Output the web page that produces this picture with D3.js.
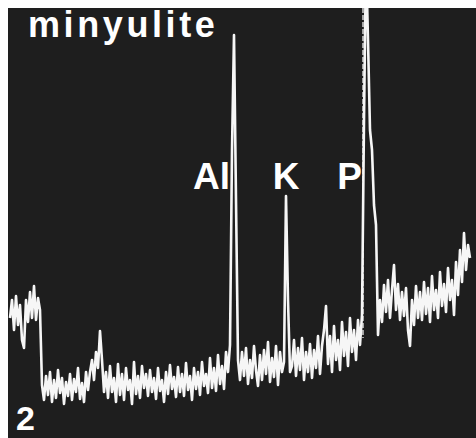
<!DOCTYPE html>
<html>
<head>
<meta charset="utf-8">
<script src="https://cdn.jsdelivr.net/npm/d3@7"></script>
<style>
  html, body { margin: 0; padding: 0; background: #fff; }
  svg { display: block; }
  text { font-family: "Liberation Sans", Arial, sans-serif; font-weight: bold; fill: #fff; }
</style>
</head>
<body>
<div id="chart"></div>
<script>
// spectrum counts, one value per channel (channel 0..230)
var counts = [
  120,138,108,142,113,133,98,90,138,116,146,120,152,118,140,128,
  53,38,62,43,66,36,58,40,68,45,60,34,56,42,64,38,59,46,70,39,55,36,66,48,
  66,78,58,86,70,107,78,46,
  66,40,72,46,60,36,74,43,64,38,
  70,48,58,34,76,44,62,40,72,50,
  64,42,68,46,60,39,70,47,58,36,
  66,44,73,49,61,41,71,46,64,42,
  75,48,62,38,70,49,66,43,76,52,
  64,45,80,50,70,47,83,54,72,49,
  86,66,
  93,288,403,238,78,
  58,86,62,90,54,78,60,92,68,52,83,58,88,64,96,56,80,61,92,53,86,66,76,
  242,138,66,
  72,98,62,90,68,100,58,86,66,94,60,88,70,102,64,92,108,132,74,102,
  66,112,78,98,68,116,82,106,72,120,86,108,78,118,93,
  123,318,480,398,308,288,233,213,103,
  138,116,153,126,158,120,148,173,128,154,118,
  146,122,150,108,92,138,113,152,120,146,
  118,156,124,150,116,162,128,148,120,166,132,154,126,170,138,158,123,
  176,143,188,156,205,168,193,180
];

// element peaks: label, channel of the line, label anchor
var peakNames = ["Al", "K", "P"];
var peakChannels = [112, 138, 178];
var peakAnchors = ["end", "middle", "end"];

var title = "minyulite";
var panelNumber = "2";
var markerChannel = 177; // dashed marker at P

var width = 476, height = 438;
var frame = {left: 8, top: 8};

var x = d3.scaleLinear()
    .domain([0, counts.length - 1])
    .range([10, 470]);
var y = d3.scaleLinear()
    .domain([0, 430])
    .range([height, frame.top]);

var svg = d3.select("#chart")
  .append("svg")
    .attr("width", width)
    .attr("height", height);

svg.append("rect")
    .attr("x", frame.left)
    .attr("y", frame.top)
    .attr("width", width - frame.left)
    .attr("height", height - frame.top)
    .attr("fill", "#1e1e1e");

svg.append("clipPath")
    .attr("id", "clip")
  .append("rect")
    .attr("x", frame.left)
    .attr("y", frame.top)
    .attr("width", width - frame.left)
    .attr("height", height - frame.top);

var plot = svg.append("g").attr("clip-path", "url(#clip)");

// dashed marker line
plot.append("line")
    .attr("x1", x(markerChannel) - 1)
    .attr("x2", x(markerChannel) - 1)
    .attr("y1", y(430))
    .attr("y2", y(100))
    .attr("stroke", "#eee")
    .attr("stroke-width", 1.3)
    .attr("stroke-dasharray", "5,2");

var line = d3.line()
    .x(function(d, i) { return x(i); })
    .y(function(d) { return y(d); });

plot.append("path")
    .datum(counts)
    .attr("fill", "none")
    .attr("stroke", "#f6f6f6")
    .attr("stroke-width", 2.6)
    .attr("stroke-linejoin", "round")
    .attr("d", line);

// title
svg.append("text")
    .attr("x", 28)
    .attr("y", 37)
    .attr("font-size", 36)
    .attr("letter-spacing", 3.6)
    .text(title);

// peak labels
svg.selectAll(".peak")
  .data(peakNames)
  .join("text")
    .attr("class", "peak")
    .attr("x", function(d, i) {
      var px = x(peakChannels[i]);
      return peakAnchors[i] === "end" ? px - 4 : px;
    })
    .attr("y", 189)
    .attr("font-size", 37)
    .attr("text-anchor", function(d, i) { return peakAnchors[i]; })
    .text(function(d) { return d; });

// panel number
svg.append("text")
    .attr("x", 16)
    .attr("y", 430)
    .attr("font-size", 34)
    .text(panelNumber);
</script>
</body>
</html>
